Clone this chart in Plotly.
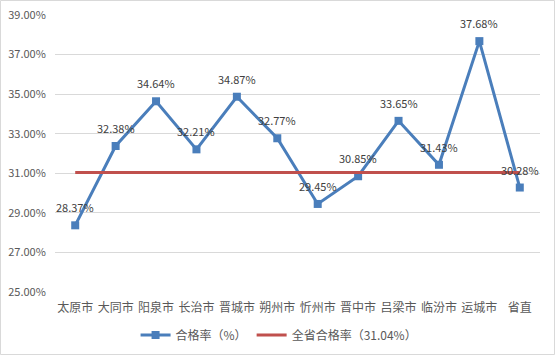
import plotly.graph_objects as go

categories = ["太原市", "大同市", "阳泉市", "长治市", "晋城市", "朔州市",
              "忻州市", "晋中市", "吕梁市", "临汾市", "运城市", "省直"]
pass_rate = [28.37, 32.38, 34.64, 32.21, 34.87, 32.77,
             29.45, 30.85, 33.65, 31.43, 37.68, 30.28]
province_rate = 31.04
y_ticks = [25, 27, 29, 31, 33, 35, 37, 39]
y_tick_labels = [f"{t:.2f}%" for t in y_ticks]

FONT = "Noto Sans CJK SC"
W, H = 556, 356
ML, MR, MT, MB = 55, 16, 15, 64
pw = W - ML - MR
ph = H - MT - MB

fig = go.Figure()
fig.add_trace(go.Scatter(
    x=categories, y=pass_rate, mode="lines+markers",
    name="合格率（%）",
    line=dict(color="#4A7EBB", width=3),
    marker=dict(symbol="square", size=8, color="#4A7EBB"),
))
fig.add_trace(go.Scatter(
    x=categories, y=[province_rate] * len(categories), mode="lines",
    name="全省合格率（31.04%）",
    line=dict(color="#C0504D", width=3),
))

for c, v in zip(categories, pass_rate):
    fig.add_annotation(x=c, y=v, text=f"{v:.2f}%", showarrow=False,
                       yshift=18, font=dict(family=FONT, size=11, color="#404040"))

# outer chart border
fig.add_shape(type="rect", xref="paper", yref="paper",
              x0=-(ML - 0.5) / pw, x1=1 + (MR - 1.5) / pw,
              y0=-(MB - 1.5) / ph, y1=1 + (MT - 0.5) / ph,
              line=dict(color="#D9D9D9", width=1), layer="below")

fig.update_layout(
    width=W, height=H,
    margin=dict(l=ML, r=MR, t=MT, b=MB, autoexpand=False),
    paper_bgcolor="white", plot_bgcolor="white",
    font=dict(family=FONT, size=12, color="#595959"),
    showlegend=True,
    legend=dict(orientation="h", x=0.462, xanchor="center",
                yref="container", y=(H - 335) / H, yanchor="middle",
                bgcolor="rgba(0,0,0,0)",
                font=dict(family=FONT, size=12, color="#595959"),
                itemwidth=30, tracegroupgap=0),
    xaxis=dict(range=[-0.5, len(categories) - 0.5], showgrid=False, zeroline=False,
               showline=False, ticks="outside", ticklen=5, tickcolor="rgba(0,0,0,0)",
               automargin=False,
               tickfont=dict(family=FONT, size=12, color="#595959")),
    yaxis=dict(range=[25, 39], tickvals=y_ticks, ticktext=y_tick_labels,
               showgrid=True, gridcolor="#D9D9D9", gridwidth=1, zeroline=False,
               showline=False, ticks="outside", ticklen=6, tickcolor="rgba(0,0,0,0)",
               automargin=False,
               tickfont=dict(family=FONT, size=11, color="#595959")),
)

fig.write_html("out.html", config={"displayModeBar": False},
               post_script="document.body.style.margin='0';document.body.style.overflow='hidden';")
